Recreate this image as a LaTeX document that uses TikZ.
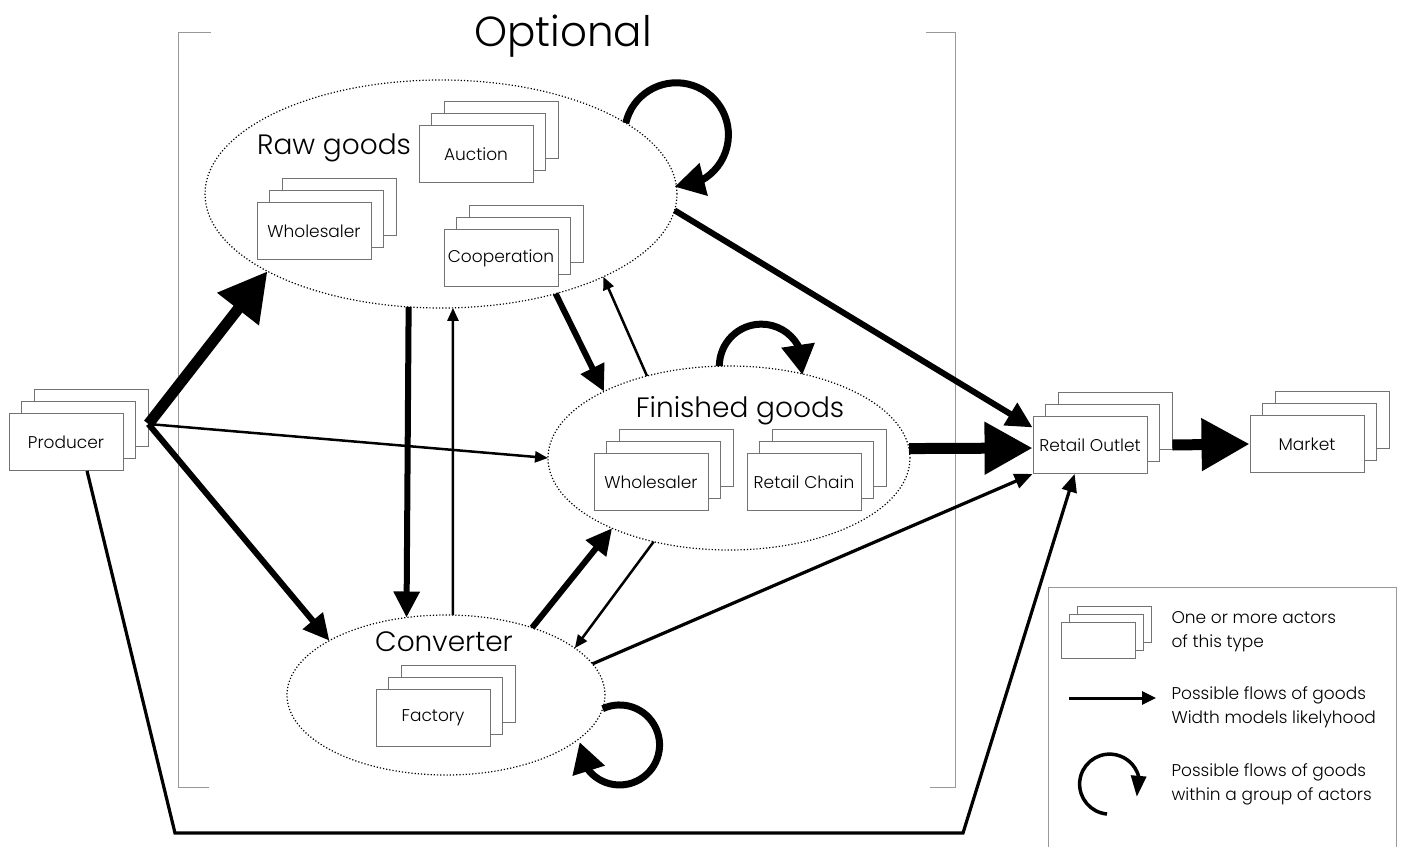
\documentclass[tikz,border=0pt]{standalone}
\usepackage{fontspec}
\IfFontExistsTF{Poppins Light}{\setmainfont{Poppins Light}}{\setmainfont{Poppins}}
\usetikzlibrary{arrows.meta,bending,shadows,shapes.geometric,calc}

\definecolor{framegray}{gray}{0.6}
\definecolor{boxgray}{gray}{0.45}

\tikzset{
  actor/.style={draw=boxgray, fill=white, line width=0.9pt, inner sep=0pt,
    minimum width=114pt, minimum height=57pt, font=\fontsize{17}{19}\selectfont,
    copy shadow={shadow xshift=25pt, shadow yshift=24pt, draw=boxgray, fill=white},
    copy shadow={shadow xshift=12.5pt, shadow yshift=12pt, draw=boxgray, fill=white}},
  smallactor/.style={draw=boxgray, fill=white, line width=0.9pt,
    minimum width=74pt, minimum height=36pt,
    copy shadow={shadow xshift=16pt, shadow yshift=16pt, draw=boxgray, fill=white},
    copy shadow={shadow xshift=8pt, shadow yshift=8pt, draw=boxgray, fill=white}},
  group/.style={ellipse, draw, dotted, line width=1.2pt, inner sep=0pt, outer sep=0pt},
  grouplabel/.style={anchor=base, font=\fontsize{28}{30}\selectfont},
  legendtext/.style={anchor=base west, font=\fontsize{17}{19}\selectfont},
  flowI/.style={line width=2.5pt, -{Triangle[length=13pt,width=11pt]}},
  flowII/.style={line width=3.2pt, -{Triangle[length=18pt,width=15pt]}},
  flowIII/.style={line width=6pt, -{Triangle[length=26pt,width=25pt]}},
  flowIV/.style={line width=11pt, -{Triangle[length=48pt,width=50pt]}},
  loopflow/.style={line width=7pt, -{Triangle[length=30pt,width=32pt]}},
  legendflow/.style={line width=3pt, -{Triangle[length=14pt,width=13pt]}},
  legendloop/.style={line width=3.5pt, -{Triangle[length=21pt,width=15pt]}}
}

\begin{document}
\begin{tikzpicture}[x=1pt, y=1pt]
\useasboundingbox (0,0) rectangle (1401,-847);
% Optional bracket
\draw[framegray, line width=1pt] (211,-32) -- (178,-32) -- (178,-787) -- (209,-787);
\draw[framegray, line width=1pt] (926,-32) -- (955,-32) -- (955,-787) -- (930,-787);
\node[anchor=base, font=\fontsize{42}{44}\selectfont] (optional) at (563,-46) {Optional};
% Groups of actors
\node[group, minimum width=472pt, minimum height=228pt] (rawg) at (441,-194) {};
\node[group, minimum width=362pt, minimum height=184pt] (fing) at (729,-458) {};
\node[group, minimum width=318pt, minimum height=160pt] (conv) at (446,-695) {};
\node[grouplabel] (rawglabel) at (334,-154) {Raw goods};
\node[grouplabel] (finglabel) at (740,-417) {Finished goods};
\node[grouplabel] (convlabel) at (444,-651) {Converter};
% Actors
\foreach \n/\x/\y/\t in {producer/66/442/Producer, auction/476/154/Auction,
    rwhole/314/231/Wholesaler, coop/501/258/Cooperation, fwhole/651/482/Wholesaler,
    rchain/804/482/Retail Chain, factory/433/718/Factory,
    outlet/1090/445/Retail Outlet, market/1307/444/Market}
  \node[actor] (\n) at (\x,-\y) {\t};
% Flows of goods
\coordinate (pout) at ($(producer.east)+(25,18)$);
\coordinate (oout) at ($(outlet.east)+(25,0)$);
\coordinate (bl) at (175,-833);
\coordinate (br) at (963,-833);
\draw[flowIV] (pout) -- (rawg.204);
\draw[flowI] (pout) -- (fing.180);
\draw[flowIII] (pout) -- (conv.155);
\draw[flowII] (producer.-54) -- (bl) -- (br) -- (outlet.242);
\draw[flowIII] (rawg.254) -- (conv.117);
\draw[flowI] (conv.85) -- (rawg.276);
\draw[flowIII] (rawg.319) -- (fing.152);
\draw[flowI] (fing.135) -- (rawg.333);
\draw[flowIII] (rawg.356) -- (outlet.163);
\draw[flowIV] (fing.3) -- (outlet.183);
\draw[flowIII] (conv.38) -- (fing.211);
\draw[flowI] (fing.228) -- (conv.20);
\draw[flowII] (conv.12) -- (outlet.south west);
\draw[flowIV] (oout) -- (market.west);
% Flows within a group
\draw[loopflow] (rawg.21) arc[start angle=167, end angle=-92, radius=52pt];
\draw[loopflow] (fing.96) arc[start angle=180, end angle=-12, radius=42pt];
\draw[loopflow] (conv.-5) arc[start angle=115, end angle=-184, radius=40pt];
% Legend
\draw[framegray, line width=1pt] (1048,-847) -- (1048,-587) -- (1396,-587) -- (1396,-847);
\node[smallactor] (lgactor) at (1098,-640) {};
\node[legendtext] (lgt1) at (1168,-623) {One or more actors};
\node[legendtext] (lgt2) at (1168,-647) {of this type};
\coordinate (lga) at (1069,-698);
\coordinate (lgb) at (1156,-698);
\draw[legendflow] (lga) -- (lgb);
\node[legendtext] (lgt3) at (1168,-699) {Possible flows of goods};
\node[legendtext] (lgt4) at (1168,-723) {Width models likelyhood};
\coordinate (lgc) at (1107,-814);
\draw[legendloop] (lgc) arc[start angle=-95, end angle=-385, radius=30pt];
\node[legendtext] (lgt5) at (1168,-776) {Possible flows of goods};
\node[legendtext] (lgt6) at (1168,-800) {within a group of actors};
\end{tikzpicture}
\end{document}
